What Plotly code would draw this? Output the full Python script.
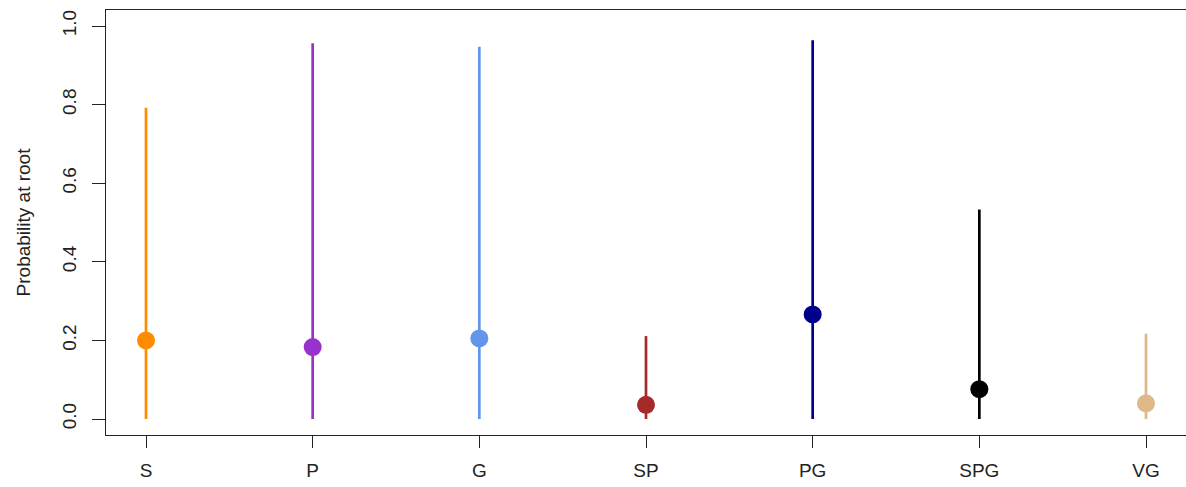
import plotly.graph_objects as go

categories = ["S", "P", "G", "SP", "PG", "SPG", "VG"]
point_values = [0.200, 0.183, 0.205, 0.036, 0.266, 0.076, 0.040]
lower_values = [0.0, 0.0, 0.0, 0.0, 0.0, 0.0, 0.0]
upper_values = [0.792, 0.956, 0.947, 0.211, 0.964, 0.533, 0.217]
colors = ["#FF8C00", "#9932CC", "#6495ED", "#A52A2A", "#00008B", "#000000", "#DEB887"]
y_ticks = [0.0, 0.2, 0.4, 0.6, 0.8, 1.0]
y_tick_labels = ["0.0", "0.2", "0.4", "0.6", "0.8", "1.0"]

positions = list(range(1, len(categories) + 1))
fig = go.Figure()
for xpos, lo, hi, pt, col in zip(positions, lower_values, upper_values, point_values, colors):
    fig.add_trace(go.Scatter(x=[xpos, xpos], y=[lo, hi], mode="lines",
                             line=dict(color=col, width=2.7), showlegend=False, hoverinfo="skip"))
    fig.add_trace(go.Scatter(x=[xpos], y=[pt], mode="markers",
                             marker=dict(color=col, size=18, line=dict(width=0)), showlegend=False))

font = "Liberation Sans, Arial, sans-serif"
fig.update_layout(
    width=1186, height=487,
    margin=dict(l=106, r=0, t=10, b=52),
    paper_bgcolor="white", plot_bgcolor="white",
    font=dict(family=font, size=19, color="#222222"),
    xaxis=dict(range=[0.76, 7.24], tickvals=positions, ticktext=categories,
               showgrid=False, zeroline=False, showline=True, linecolor="#222222", linewidth=1.4,
               mirror=True, ticks="outside", ticklen=12, tickwidth=1.4, tickcolor="#222222",
               ticklabelstandoff=6, tickfont=dict(size=19)),
    yaxis=dict(range=[-0.0407, 1.0407], tickvals=y_ticks, ticktext=y_tick_labels,
               showgrid=False, zeroline=False, showline=True, linecolor="#222222", linewidth=1.4,
               mirror=False, ticks="outside", ticklen=13, tickwidth=1.4, tickcolor="#222222",
               tickangle=-90, ticklabelstandoff=8, tickfont=dict(size=19),
               title=dict(text="Probability at root", font=dict(size=19), standoff=23)),
)
fig.write_html("out.html", config={"displayModeBar": False},
               post_script="document.body.style.margin='0';")
